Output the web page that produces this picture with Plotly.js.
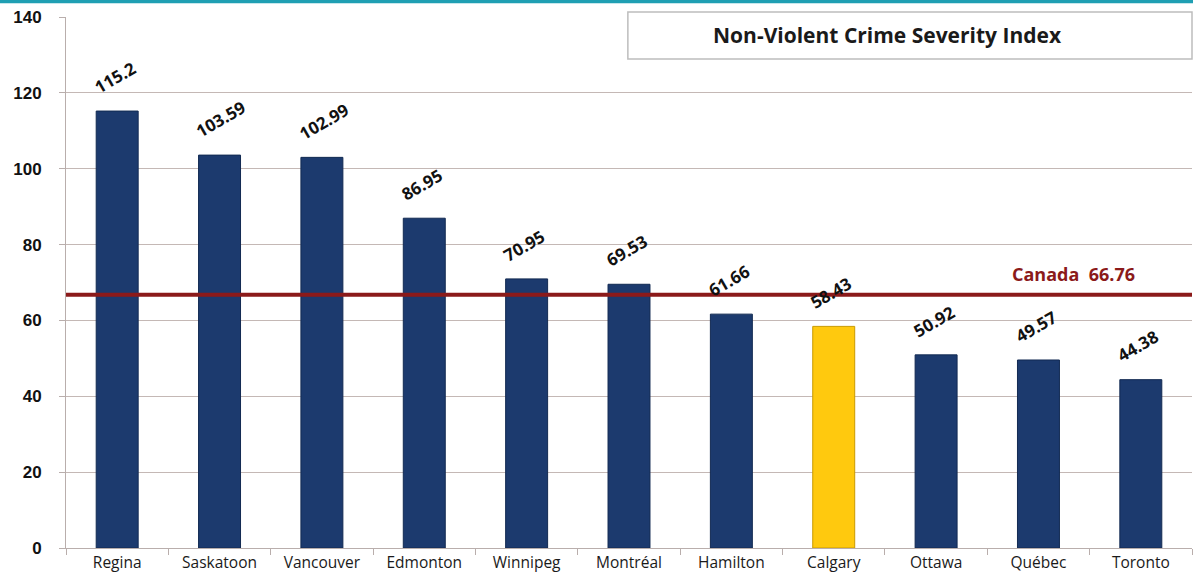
<!DOCTYPE html>
<html>
<head>
<meta charset="utf-8">
<script src="https://cdn.plot.ly/plotly-3.0.1.min.js"></script>
<style>
  html, body { margin: 0; padding: 0; background: #ffffff; }
  #chart { width: 1193px; height: 578px; }
</style>
</head>
<body>
<div id="chart"></div>
<script>
// Non-violent crime severity index by city
const cities = ["Regina", "Saskatoon", "Vancouver", "Edmonton", "Winnipeg", "Montréal",
                "Hamilton", "Calgary", "Ottawa", "Québec", "Toronto"];
const indexValues = [115.2, 103.59, 102.99, 86.95, 70.95, 69.53, 61.66, 58.43, 50.92, 49.57, 44.38];
const highlightCity = "Calgary";
const canadaValue = 66.76;
const yTicks = [0, 20, 40, 60, 80, 100, 120, 140];

const navy = "#1c3a6e";
const gold = "#ffc90e";

const barColors = cities.map(c => c === highlightCity ? gold : navy);
const barLines = cities.map(c => c === highlightCity ? "#c99a00" : "#122a52");

const bars = {
  type: "bar",
  x: cities,
  y: indexValues,
  marker: { color: barColors, line: { color: barLines, width: 1 } },
  hoverinfo: "x+y",
  showlegend: false
};

// rotated value labels, starting just above the left edge of each bar
const valueLabels = cities.map((c, i) => ({
  x: c,
  y: indexValues[i],
  xref: "x",
  yref: "y",
  text: String(indexValues[i]),
  showarrow: false,
  textangle: -30,
  xanchor: "left",
  yanchor: "bottom",
  xshift: -30,
  yshift: 10,
  font: { family: "Open Sans", size: 17, color: "#111111", weight: "bold" }
}));

const layout = {
  width: 1193,
  height: 578,
  margin: { l: 66, r: 1, t: 17, b: 30 },
  paper_bgcolor: "#ffffff",
  plot_bgcolor: "#ffffff",
  bargap: 0.59,
  xaxis: {
    type: "category",
    tickson: "boundaries",
    ticks: "outside",
    ticklen: 6,
    tickcolor: "#b9aeac",
    showline: true,
    linecolor: "#b9aeac",
    linewidth: 1,
    showgrid: false,
    tickfont: { family: "Open Sans", size: 15.5, color: "#1a1a1a" },
    fixedrange: true
  },
  yaxis: {
    range: [0, 140],
    tickvals: yTicks,
    ticktext: yTicks.map(String),
    ticks: "outside",
    ticklen: 6,
    tickcolor: "#b9aeac",
    showline: true,
    linecolor: "#b9aeac",
    linewidth: 1,
    showgrid: true,
    gridcolor: "#c4b8b5",
    gridwidth: 1,
    zeroline: false,
    ticklabelstandoff: 14,
    tickfont: { family: "Liberation Sans", size: 17, color: "#111111", weight: "bold" },
    fixedrange: true
  },
  shapes: [
    // teal rule along the top edge
    { type: "rect", xref: "paper", yref: "paper", x0: -0.06, x1: 1.01, y0: 1.026, y1: 1.034,
      fillcolor: "#1f9fb3", line: { width: 0 } },
    // national average line
    { type: "line", xref: "paper", yref: "y", x0: 0, x1: 1, y0: canadaValue, y1: canadaValue,
      line: { color: "#8b1a1a", width: 4 } },
    // title box
    { type: "rect", xref: "paper", yref: "paper", x0: 0.499, x1: 1.0, y0: 0.921, y1: 1.0094,
      fillcolor: "#ffffff", line: { color: "#bdbdbd", width: 1.5 } }
  ],
  annotations: valueLabels.concat([
    { xref: "paper", yref: "paper", x: 0.730, y: 0.966, xanchor: "center", yanchor: "middle",
      text: "Non-Violent Crime Severity Index", showarrow: false,
      font: { family: "Open Sans", size: 21, color: "#1a1a1a", weight: "bold" } },
    { xref: "paper", yref: "y", x: 0.895, y: canadaValue, xanchor: "center", yanchor: "bottom",
      yshift: 7, text: "Canada  " + canadaValue, showarrow: false,
      font: { family: "Open Sans", size: 18, color: "#8b1a1a", weight: "bold" } }
  ])
};

Plotly.newPlot("chart", [bars], layout, { displayModeBar: false, staticPlot: true });
</script>
</body>
</html>
